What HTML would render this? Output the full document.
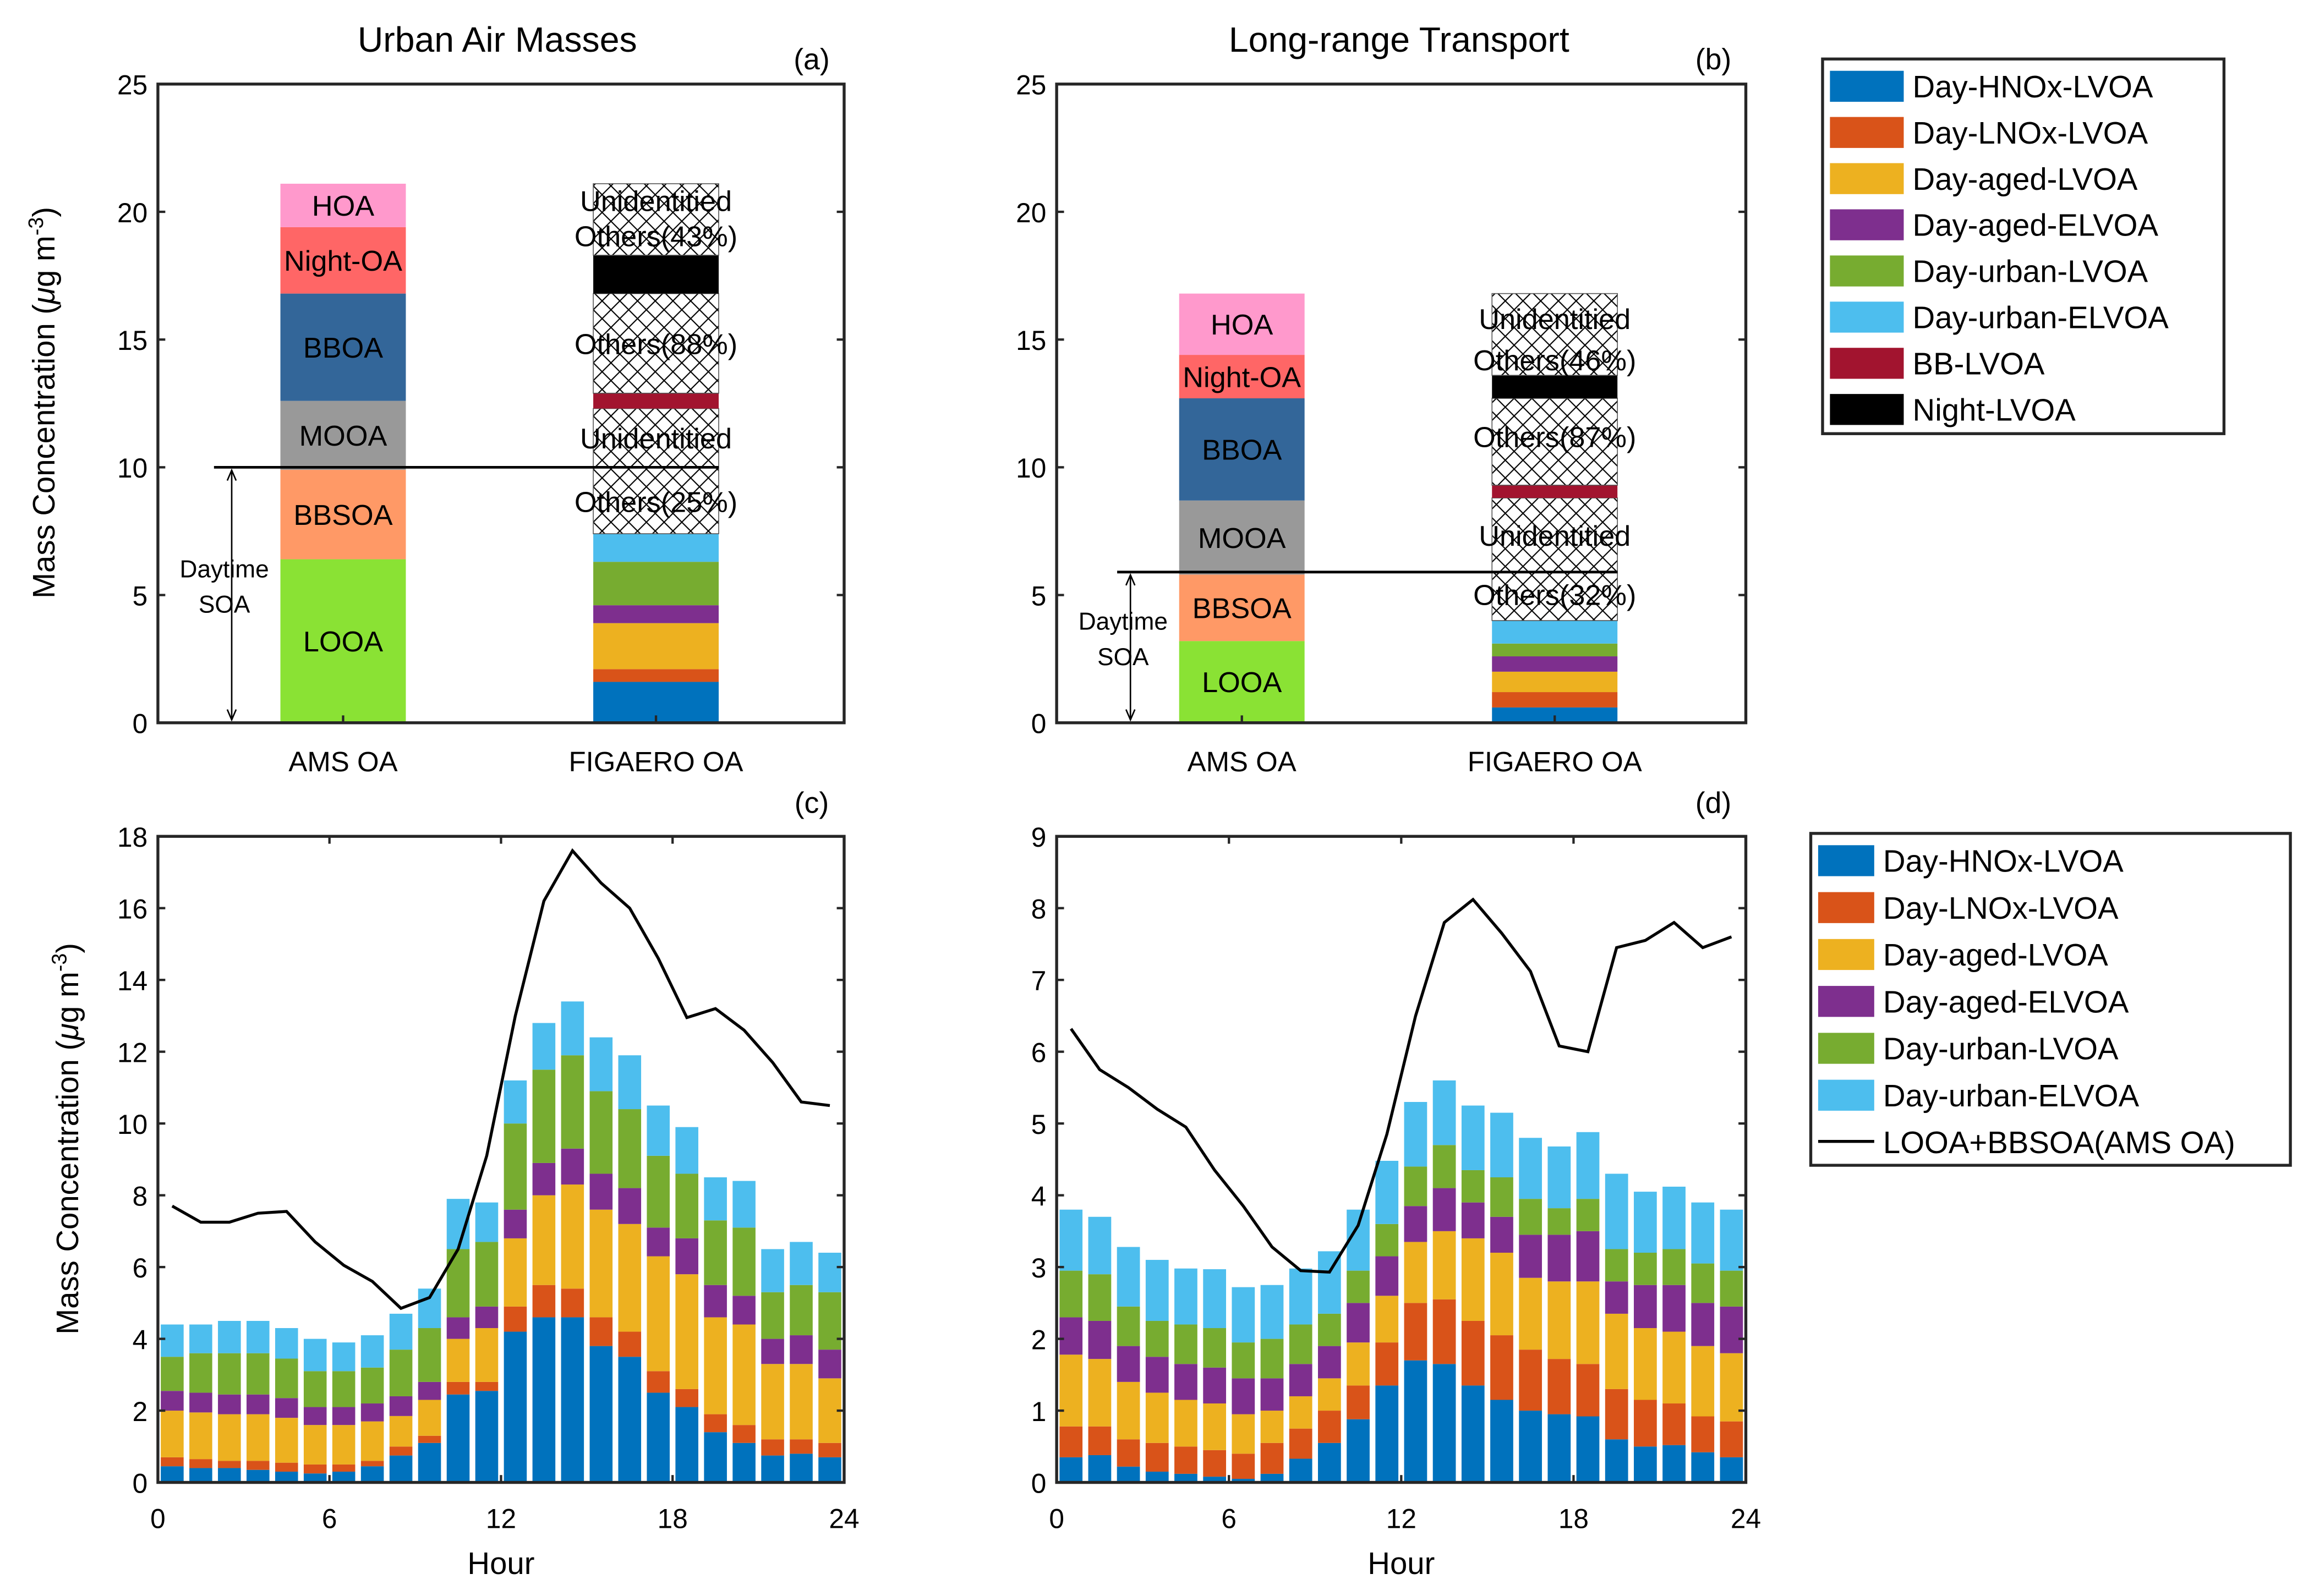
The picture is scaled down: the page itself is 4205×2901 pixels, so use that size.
<!DOCTYPE html>
<html><head><meta charset="utf-8">
<style>
html,body{margin:0;padding:0;background:#fff;}
svg{display:block;font-family:"Liberation Sans",Arial,sans-serif;}
</style></head>
<body>
<svg id="fig" width="4205" height="2901" viewBox="0 0 1568 1082" preserveAspectRatio="none" xmlns="http://www.w3.org/2000/svg">
<defs>
<pattern id="hatch" patternUnits="userSpaceOnUse" width="12" height="12">
<rect width="12" height="12" fill="#fff"/>
<path d="M0,0 L12,12 M12,0 L0,12" stroke="#000" stroke-width="0.8"/>
</pattern>
</defs>
<g id="root"></g>
</svg>
<script>
// ===== Panel (c) cumulative tops (µg m-3), hours 0..23 =====
const hours = [0,1,2,3,4,5,6,7,8,9,10,11,12,13,14,15,16,17,18,19,20,21,22,23];
const cHNOx   = [0.45,0.4,0.4,0.35,0.3,0.25,0.3,0.45,0.75,1.1,2.45,2.55,4.2,4.6,4.6,3.8,3.5,2.5,2.1,1.4,1.1,0.75,0.8,0.7];
const cLNOx   = [0.7,0.65,0.6,0.6,0.55,0.5,0.5,0.6,1.0,1.3,2.8,2.8,4.9,5.5,5.4,4.6,4.2,3.1,2.6,1.9,1.6,1.2,1.2,1.1];
const cAged   = [2.0,1.95,1.9,1.9,1.8,1.6,1.6,1.7,1.85,2.3,4.0,4.3,6.8,8.0,8.3,7.6,7.2,6.3,5.8,4.6,4.4,3.3,3.3,2.9];
const cAgedEL = [2.55,2.5,2.45,2.45,2.35,2.1,2.1,2.2,2.4,2.8,4.6,4.9,7.6,8.9,9.3,8.6,8.2,7.1,6.8,5.5,5.2,4.0,4.1,3.7];
const cUrban  = [3.5,3.6,3.6,3.6,3.45,3.1,3.1,3.2,3.7,4.3,6.5,6.7,10.0,11.5,11.9,10.9,10.4,9.1,8.6,7.3,7.1,5.3,5.5,5.3];
const cUrbEL  = [4.4,4.4,4.5,4.5,4.3,4.0,3.9,4.1,4.7,5.4,7.9,7.8,11.2,12.8,13.4,12.4,11.9,10.5,9.9,8.5,8.4,6.5,6.7,6.4];
const cLine   = [7.7,7.25,7.25,7.5,7.55,6.7,6.05,5.6,4.85,5.15,6.5,9.1,13.0,16.2,17.6,16.7,16.0,14.6,12.95,13.2,12.6,11.7,10.6,10.5];
// ===== Panel (d) cumulative tops =====
const dHNOx   = [0.35,0.38,0.22,0.15,0.12,0.08,0.05,0.12,0.33,0.55,0.88,1.35,1.7,1.65,1.35,1.15,1.0,0.95,0.92,0.6,0.5,0.52,0.42,0.35];
const dLNOx   = [0.78,0.78,0.6,0.55,0.5,0.45,0.4,0.55,0.75,1.0,1.35,1.95,2.5,2.55,2.25,2.05,1.85,1.72,1.65,1.3,1.15,1.1,0.92,0.85];
const dAged   = [1.78,1.72,1.4,1.25,1.15,1.1,0.95,1.0,1.2,1.45,1.95,2.6,3.35,3.5,3.4,3.2,2.85,2.8,2.8,2.35,2.15,2.1,1.9,1.8];
const dAgedEL = [2.3,2.25,1.9,1.75,1.65,1.6,1.45,1.45,1.65,1.9,2.5,3.15,3.85,4.1,3.9,3.7,3.45,3.45,3.5,2.8,2.75,2.75,2.5,2.45];
const dUrban  = [2.95,2.9,2.45,2.25,2.2,2.15,1.95,2.0,2.2,2.35,2.95,3.6,4.4,4.7,4.35,4.25,3.95,3.82,3.95,3.25,3.2,3.25,3.05,2.95];
const dUrbEL  = [3.8,3.7,3.28,3.1,2.98,2.97,2.72,2.75,2.98,3.22,3.8,4.48,5.3,5.6,5.25,5.15,4.8,4.68,4.88,4.3,4.05,4.12,3.9,3.8];
const dLine   = [6.32,5.75,5.5,5.2,4.95,4.35,3.85,3.28,2.95,2.93,3.58,4.85,6.5,7.8,8.12,7.65,7.12,6.08,6.0,7.45,7.55,7.8,7.45,7.6];
// ===== Panels (a),(b) stacked segment sizes =====
const amsNames = ["LOOA","BBSOA","MOOA","BBOA","Night-OA","HOA"];
const amsA = [6.4,3.5,2.7,4.2,2.6,1.7];
const amsB = [3.2,2.6,2.9,4.0,1.7,2.4];
const figNames = ["Day-HNOx-LVOA","Day-LNOx-LVOA","Day-aged-LVOA","Day-aged-ELVOA","Day-urban-LVOA","Day-urban-ELVOA","hatch1","BB-LVOA","hatch2","Night-LVOA","hatch3"];
const figA = [1.6,0.5,1.8,0.7,1.7,1.1,4.9,0.6,3.9,1.5,2.8];
const figB = [0.6,0.6,0.8,0.6,0.5,0.9,4.8,0.5,3.4,0.9,3.2];
const sumLineA = 10, sumLineB = 5.9;

const NS="http://www.w3.org/2000/svg";
const root=document.getElementById('root');
function el(tag,attrs,parent){const e=document.createElementNS(NS,tag);for(const k in attrs)e.setAttribute(k,attrs[k]);(parent||root).appendChild(e);return e;}
function txt(x,y,s,size,anchor,parent){const t=el('text',{x:x,y:y,'font-size':size,'text-anchor':anchor||'middle',fill:'#000'},parent);t.textContent=s;return t;}

const C={blue:'#0072BD',orange:'#D95319',yellow:'#EDB120',purple:'#7E2F8E',green:'#77AC30',cyan:'#4DBEEE',bb:'#A2142F',black:'#000'};
const amsColors=['#8AE234','#FF9966','#999999','#336699','#FF6666','#FF99CC'];
const figColors=[C.blue,C.orange,C.yellow,C.purple,C.green,C.cyan,'url(#hatch)',C.bb,'url(#hatch)','#000','url(#hatch)'];

function axesBox(x0,x1,y0,y1,name){
  el('rect',{x:x0,y:y0,width:x1-x0,height:y1-y0,fill:'none',stroke:'#262626','stroke-width':2,});
}
function yTicks(x0,x1,ys,vals){
  const g=el('g',{});
  
  
  vals.forEach(v=>{const y=ys(v);
    el('line',{x1:x0,x2:x0+5,y1:y,y2:y,stroke:'#262626','stroke-width':1.6},g);
    el('line',{x1:x1,x2:x1-5,y1:y,y2:y,stroke:'#262626','stroke-width':1.6},g);
    txt(x0-7,y+7,String(v),18.5,'end',g);});
}

function topPanel(x0,x1,ams,fig,lineVal,lineX0,arrowX,title,tag,titleX,annots){
  const y0=57,y1=490; const ys=v=>y1-(v/25)*(y1-y0);
  const amsX=x0+83, figX=x0+295, bw=85;
  let cum=0;
  ams.forEach((v,i)=>{const r=el('rect',{x:amsX,y:ys(cum+v),width:bw,height:ys(cum)-ys(cum+v),fill:amsColors[i]});
    
    
    txt(amsX+bw/2,(ys(cum)+ys(cum+v))/2+7,amsNames[i],19.5);cum+=v;});
  cum=0;
  fig.forEach((v,i)=>{const r=el('rect',{x:figX,y:ys(cum+v),width:bw,height:ys(cum)-ys(cum+v),fill:figColors[i],stroke:figColors[i].startsWith('url')?'#555':'none','stroke-width':0.6});
    
    
    cum+=v;});
  annots.forEach(a=>txt(figX+bw/2,a[1],a[0],19.5));
  const ly=ys(lineVal);
  const l=el('line',{x1:lineX0,x2:figX+bw,y1:ly,y2:ly,stroke:'#000','stroke-width':1.8});
  
  
  el('line',{x1:arrowX,x2:arrowX,y1:ly+2,y2:y1-2,stroke:'#000','stroke-width':1});
  el('path',{d:`M${arrowX-3},${ly+9} L${arrowX},${ly+2} L${arrowX+3},${ly+9} M${arrowX-3},${y1-9} L${arrowX},${y1-2} L${arrowX+3},${y1-9}`,stroke:'#000',fill:'none','stroke-width':1});
  txt(arrowX-5,(ly+y1)/2-12,'Daytime',16.5);
  txt(arrowX-5,(ly+y1)/2+12,'SOA',16.5);
  axesBox(x0,x1,y0,y1,'axes-'+tag);
  yTicks(x0,x1,ys,[0,5,10,15,20,25]);
  [amsX+bw/2,figX+bw/2].forEach((xx,i)=>{el('line',{x1:xx,x2:xx,y1:y1,y2:y1-5,stroke:'#262626','stroke-width':1.6});
    txt(xx,523,i?'FIGAERO OA':'AMS OA',19);});
  const tt=txt(titleX,35,title,24);  
  txt(x1-22,47,'('+tag+')',20);
}
topPanel(107,572,amsA,figA,sumLineA,145,157,'Urban Air Masses','a',337,
 [['Unidentitied',143],['Others(43%)',167],['Others(88%)',240],['Unidentitied',304],['Others(25%)',347]]);
topPanel(716,1183,amsB,figB,sumLineB,757,766,'Long-range Transport','b',948,
 [['Unidentitied',223],['Others(46%)',251],['Others(87%)',303],['Unidentitied',370],['Others(32%)',410]]);

function bottomPanel(x0,x1,ymax,step,series,line,tag){
  const y0=567,y1=1005;
  const ys=v=>y1-(v/ymax)*(y1-y0);
  const xs=h=>x0+(h/24)*(x1-x0);
  const cols=[C.blue,C.orange,C.yellow,C.purple,C.green,C.cyan];
  const sn=['hnox','lnox','aged','aged-el','urban','urban-el'];
  hours.forEach((h,i)=>{
    let prev=0;
    series.forEach((s,k)=>{
      const top=s[i];
      const r=el('rect',{x:xs(h+0.1),y:ys(top),width:xs(h+0.9)-xs(h+0.1),height:Math.max(0,ys(prev)-ys(top)),fill:cols[k]});
      
      
      prev=top;});
  });
  const pts=hours.map((h,i)=>xs(h+0.5)+','+ys(line[i])).join(' ');
  const pl=el('polyline',{points:pts,fill:'none',stroke:'#000','stroke-width':2});
  
  
  axesBox(x0,x1,y0,y1,'axes-'+tag);
  const vals=[];for(let v=0;v<=ymax+1e-9;v+=step)vals.push(v);
  yTicks(x0,x1,ys,vals);
  [0,6,12,18,24].forEach(h=>{const x=xs(h);
    el('line',{x1:x,x2:x,y1:y1,y2:y1-5,stroke:'#262626','stroke-width':1.6});
    el('line',{x1:x,x2:x,y1:y0,y2:y0+5,stroke:'#262626','stroke-width':1.6});
    txt(x,1036,String(h),18.5);});
  txt((x0+x1)/2,1067,'Hour',21);
  txt(x1-22,551,'('+tag+')',20);
}
bottomPanel(107,572,18,2,[cHNOx,cLNOx,cAged,cAgedEL,cUrban,cUrbEL],cLine,'c');
bottomPanel(716,1183,9,1,[dHNOx,dLNOx,dAged,dAgedEL,dUrban,dUrbEL],dLine,'d');

function yTitle(x,y,name){const t=el('text',{x:0,y:0,'font-size':21,'text-anchor':'middle',transform:`translate(${x},${y}) rotate(-90)`});
  
  t.innerHTML='Mass Concentration (<tspan font-style="italic">μ</tspan>g m<tspan dy="-8" font-size="14">-3</tspan><tspan dy="8">)</tspan>';}
yTitle(37,273,'y-axis-title-a');
yTitle(53,772,'y-axis-title-c');

function legend(x0,y0,w,h,entries,sx,sw,tx,ys0,dy,name){
  const g=el('g',{});
  
  
  el('rect',{x:x0,y:y0,width:w,height:h,fill:'#fff',stroke:'#262626','stroke-width':2},g);
  entries.forEach((e,i)=>{const y=ys0+i*dy;
    if(e[1]==='line')el('line',{x1:sx,x2:sx+sw,y1:y,y2:y,stroke:'#000','stroke-width':2},g);
    else el('rect',{x:sx,y:y-10,width:sw,height:21,fill:e[1]},g);
    txt(tx,y+8,e[0],21,'start',g);});
}
legend(1235,40,272,254,[['Day-HNOx-LVOA',C.blue],['Day-LNOx-LVOA',C.orange],['Day-aged-LVOA',C.yellow],['Day-aged-ELVOA',C.purple],['Day-urban-LVOA',C.green],['Day-urban-ELVOA',C.cyan],['BB-LVOA',C.bb],['Night-LVOA','#000']],1240,50,1296,58,31.3,'legend-top');
legend(1227,565,325,225,[['Day-HNOx-LVOA',C.blue],['Day-LNOx-LVOA',C.orange],['Day-aged-LVOA',C.yellow],['Day-aged-ELVOA',C.purple],['Day-urban-LVOA',C.green],['Day-urban-ELVOA',C.cyan],['LOOA+BBSOA(AMS OA)','line']],1232,38,1276,583,31.8,'legend-bottom');
</script>
</body></html>
